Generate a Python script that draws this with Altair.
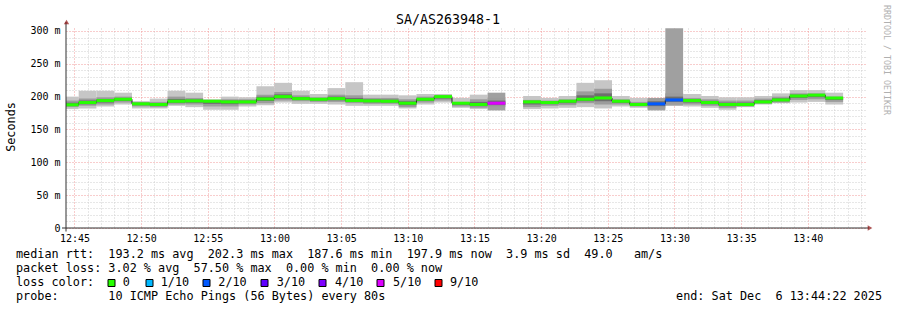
import altair as alt
import pandas as pd

TITLE = "SA/AS263948-1"

# end time of each 80 s SmokePing step (UTC)
END_TIMES = [
    "12:45:19", "12:46:39", "12:47:59", "12:49:19", "12:50:39", "12:51:59",
    "12:53:19", "12:54:39", "12:55:59", "12:57:19", "12:58:39", "12:59:59",
    "13:01:19", "13:02:39", "13:03:59", "13:05:19", "13:06:39", "13:07:59",
    "13:09:19", "13:10:39", "13:11:59", "13:13:19", "13:14:39", "13:15:59",
    "13:17:19", "13:18:39", "13:19:59", "13:21:19", "13:22:39", "13:23:59",
    "13:25:19", "13:26:39", "13:27:59", "13:29:19", "13:30:39", "13:31:59",
    "13:33:19", "13:34:39", "13:35:59", "13:37:19", "13:38:39", "13:39:59",
    "13:41:19", "13:42:39",
]
MAX_RTT = [200, 209, 209, 206, 193, 197, 209, 206, 196, 200, 199, 216,
           221, 209, 204, 213, 222, 203, 203, 202, 204, 204, 198, 203,
           206, None, 201, 198, 201, 221, 225, 201, 198, 198, 304, 204,
           201, 199, 199, 201, 205, 210, 210, 206]
UPPER = [194, 197, 199, 200, 192, 192, 200, 198, 195, 196, 196, 203,
         207, 202, 199, 203, 202, 198, 198, 196, 200, 202, 192, 196,
         198, None, 195, 194, 196, 208, 212, 196, 192, 197, 205, 198,
         196, 194, 194, 197, 200, 205, 205, 200]
MEDIAN = [187.6, 191, 194, 196, 189, 188, 193, 193.5, 193, 192, 192, 196.5,
          200, 197, 196, 197, 194, 193.5, 193, 190, 196, 200, 190, 188,
          190, None, 192, 191, 193, 196, 198, 193, 188, 189, 195, 194,
          191, 188, 188, 192, 195, 201, 202.3, 197.9]
LOWER = [184, 186, 188, 191, 185, 184, 188, 188, 185, 185, 188, 190,
         194, 193, 192, 192, 190, 189, 189, 184, 191, 194, 185, 183,
         184, None, 184, 186, 187, 190, 188, 188, 185, 182, 189, 188,
         186, 183, 185, 189, 191, 195, 196, 192]
MIN_RTT = [181, 182, 185, 188, 182, 182, 186, 184, 180, 180, 185, 187,
           191, 189, 189, 188, 186, 186, 186, 182, 188, 191, 183, 181,
           179, None, 181, 182, 183, 184, 182, 185, 183, 179, 186, 185,
           183, 180, 184, 188, 190, 191, 192, 188]
LOSS = [0, 0, 0, 0, 0, 0, 0, 0, 0, 0, 0, 0,
        0, 0, 0, 0, 0, 0, 0, 0, 0, 0, 0, 0,
        5, None, 0, 0, 0, 0, 0, 0, 0, 2, 2, 0,
        0, 0, 0, 0, 0, 0, 0, 0]

LOSS_LEVELS = [0, 1, 2, 3, 4, 5, 9]
LOSS_LABELS = ["0", "1/10", "2/10", "3/10", "4/10", "5/10", "9/10"]
LOSS_COLORS = ["#26ff00", "#00b8ff", "#0059ff", "#5e00ff", "#7e00ff", "#dd00ff", "#ff0000"]

LINE1 = "median rtt:  193.2 ms avg  202.3 ms max  187.6 ms min  197.9 ms now  3.9 ms sd  49.0   am/s"
LINE2 = "packet loss: 3.02 % avg  57.50 % max  0.00 % min  0.00 % now"
LINE3 = "loss color:"
LINE4 = "probe:       10 ICMP Echo Pings (56 Bytes) every 80s"
END_TEXT = "end: Sat Dec  6 13:44:22 2025"
WATERMARK = "RRDTOOL / TOBI OETIKER"
Y_TITLE = "Seconds"

# ---------------- layout (pixels) ----------------
FONT = "DejaVu Sans Mono"
FS = 11.8
PAD_L, PAD_T = 66, 28
W, H = 800, 200
SQ_X = [111.5, 149.5, 206.5, 264.5, 322.5, 380.5, 438.5]
LAB_X = [122.7, 160.7, 218.3, 276.7, 335, 393, 450]


def nb(s):
    return s.replace(" ", "\u00a0")


df = pd.DataFrame({
    "t": ["2025-12-06T" + s + "Z" for s in END_TIMES],
    "mx": MAX_RTT, "hi": UPPER, "med": MEDIAN, "lo": LOWER, "mn": MIN_RTT,
    "loss": LOSS,
})

dom = [alt.DateTime(year=2025, month=12, date=6, hours=12, minutes=44, seconds=22, utc=True),
       alt.DateTime(year=2025, month=12, date=6, hours=13, minutes=44, seconds=22, utc=True)]
xvals = []
for m in range(45, 105):
    hh, mm = 12 + m // 60, m % 60
    xvals.append(alt.DateTime(year=2025, month=12, date=6, hours=hh, minutes=mm, utc=True))

xscale = alt.Scale(type="utc", domain=dom)
yscale = alt.Scale(domain=[0, 304.5], nice=False, zero=True)

x_axis = alt.Axis(
    values=xvals, tickCount=500, title=None, domain=False, ticks=False,
    labelExpr="utcminutes(datum.value) % 5 === 0 ? utcFormat(datum.value, '%H:%M') : ''",
    labelFont=FONT, labelFontSize=10, labelColor="#000000", labelPadding=5,
    labelFlush=False, labelOverlap=False,
    grid=True, gridDash=[1, 2], gridWidth=1,
    gridColor={"condition": {"test": "utcminutes(datum.value) % 5 === 0", "value": "#f19a9a"},
               "value": "#cfcfcf"},
)
y_axis = alt.Axis(
    values=list(range(0, 301, 10)), tickCount=500, title=None, domain=False, ticks=False,
    labelExpr="datum.value % 50 === 0 ? (datum.value === 0 ? '0\u00a0\u00a0' : datum.value + ' m') : ''",
    labelFont=FONT, labelFontSize=10, labelColor="#000000", labelPadding=6,
    labelOverlap=False, labelBaseline="middle",
    grid=True, gridDash=[1, 2], gridWidth=1,
    gridColor={"condition": {"test": "datum.value % 50 === 0", "value": "#f19a9a"},
               "value": "#cfcfcf"},
)

base = alt.Chart(df).transform_filter("isValid(datum.med)").transform_calculate(
    te="time(toDate(datum.t))", ts="time(toDate(datum.t)) - 80000"
)

outer = base.mark_rect(clip=True).encode(
    x=alt.X("ts:T", scale=xscale, axis=x_axis),
    x2="te:T",
    y=alt.Y("mn:Q", scale=yscale, axis=y_axis),
    y2="mx:Q",
    color=alt.condition("datum.loss >= 2", alt.value("#a0a0a0"), alt.value("#c6c6c6")),
)
mid = base.mark_rect(clip=True, color="#9c9c9c").encode(
    x="ts:T", x2="te:T", y="lo:Q", y2="hi:Q")
inner = base.transform_calculate(
    ilo="(datum.lo + datum.med) / 2", ihi="(datum.hi + datum.med) / 2"
).mark_rect(clip=True, color="#6e6e6e").encode(
    x="ts:T", x2="te:T", y="ilo:Q", y2="ihi:Q")

conn = alt.Chart(df).transform_calculate(
    te="time(toDate(datum.t))"
).transform_window(
    next_med="lead(med)", sort=[alt.SortField("te")]
).transform_filter("isValid(datum.med) && isValid(datum.next_med)").mark_rule(
    color="#202020", strokeWidth=1, clip=True
).encode(x="te:T", y="med:Q", y2="next_med:Q")

med = base.mark_rule(strokeWidth=3, clip=True).encode(
    x="ts:T", x2="te:T", y="med:Q",
    color=alt.Color("loss:O", scale=alt.Scale(domain=LOSS_LEVELS, range=LOSS_COLORS), legend=None),
)

dummy = pd.DataFrame({"d": [0]})


def txt(text, x, y, size=FS, align="left", baseline="alphabetic", angle=0, color="#000000"):
    mk = dict(font=FONT, fontSize=size, align=align, baseline=baseline, color=color)
    if angle:
        mk["angle"] = angle
    return alt.Chart(dummy).mark_text(**mk).encode(
        x=alt.value(x), y=alt.value(y), text=alt.value(nb(text)))


layers = [outer, mid, inner, conn, med]

# axis lines and arrows
layers.append(alt.Chart(dummy).mark_rule(color="#303030", strokeWidth=1).encode(
    x=alt.value(0), y=alt.value(-6), y2=alt.value(203.5)))
layers.append(alt.Chart(dummy).mark_rule(color="#303030", strokeWidth=1).encode(
    x=alt.value(-4), x2=alt.value(803), y=alt.value(200)))
layers.append(alt.Chart(dummy).mark_point(shape="triangle-up", filled=True, size=28, color="#8b1010").encode(
    x=alt.value(0.5), y=alt.value(-6)))
layers.append(alt.Chart(dummy).mark_point(shape="triangle-right", filled=True, size=28, color="#8b1010").encode(
    x=alt.value(804), y=alt.value(200)))

# texts
layers.append(txt(TITLE, 448 - PAD_L, 24 - PAD_T, size=13.3, align="center"))
layers.append(txt(Y_TITLE, 11 - PAD_L, 127 - PAD_T, align="center", baseline="middle", angle=270))
layers.append(txt(WATERMARK, 886 - PAD_L, 60 - PAD_T, size=8.3, align="center", baseline="middle",
                  angle=90, color="#b0b0b0"))
layers.append(txt(LINE1, 16 - PAD_L, 258 - PAD_T))
layers.append(txt(LINE2, 16 - PAD_L, 272 - PAD_T))
layers.append(txt(LINE3, 16 - PAD_L, 286 - PAD_T))
for lab, col, sx, lx in zip(LOSS_LABELS, LOSS_COLORS, SQ_X, LAB_X):
    layers.append(alt.Chart(dummy).mark_square(size=49, color=col, opacity=1, stroke="#000000",
                                               strokeWidth=1).encode(
        x=alt.value(sx - PAD_L), y=alt.value(283 - PAD_T)))
    layers.append(txt(lab, lx - PAD_L, 286 - PAD_T))
layers.append(txt(LINE4, 16 - PAD_L, 300 - PAD_T))
layers.append(txt(END_TEXT, 882 - PAD_L, 300 - PAD_T, align="right"))

chart = alt.layer(*layers).properties(
    width=W, height=H,
    padding={"left": PAD_L, "top": PAD_T, "right": 897 - PAD_L - W, "bottom": 310 - PAD_T - H},
    autosize=alt.AutoSizeParams(type="none"),
    background="#ffffff",
).configure_view(strokeWidth=0)

chart.save("out.html", embed_options={"renderer": "svg", "actions": False})
